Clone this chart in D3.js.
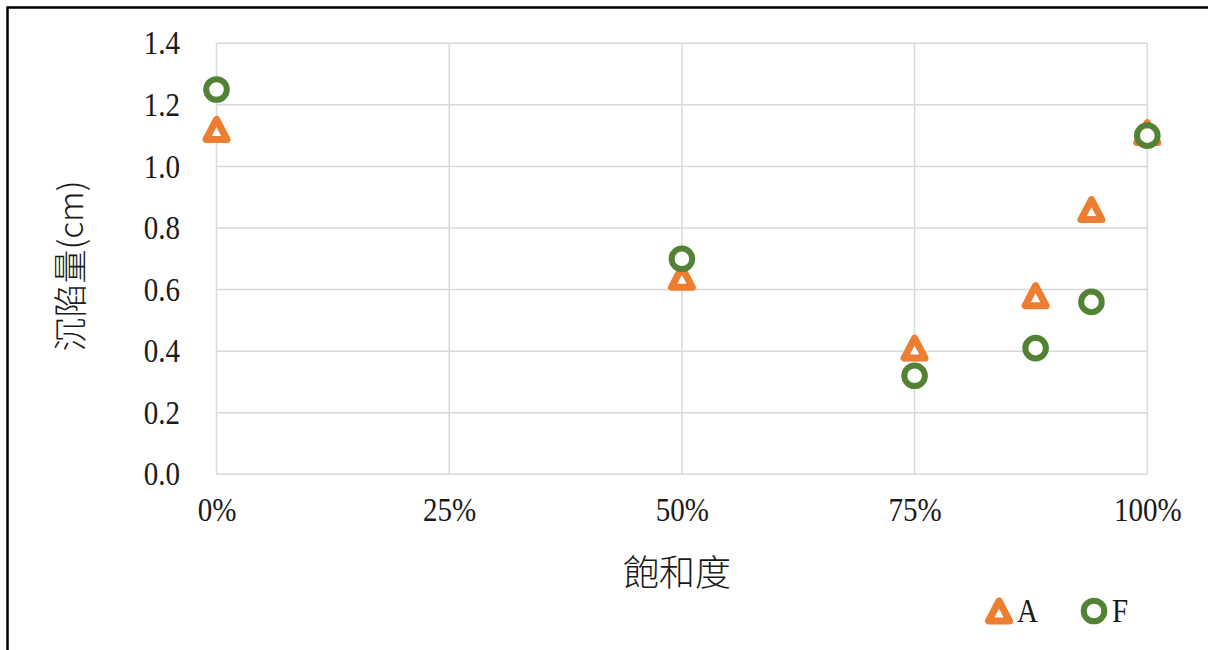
<!DOCTYPE html>
<html>
<head>
<meta charset="utf-8">
<script src="https://cdn.jsdelivr.net/npm/d3@7"></script>
<style>
  html, body { margin: 0; padding: 0; background: #fff; }
  svg { display: block; }
</style>
</head>
<body>
<svg id="chart" width="1208" height="650"></svg>
<script>
// Settlement vs. degree of saturation
const saturation = [0, 0.5, 0.75, 0.88, 0.94, 1.0];
const seriesA = [1.12, 0.64, 0.41, 0.58, 0.86, 1.11];
const seriesF = [1.25, 0.70, 0.32, 0.41, 0.56, 1.10];
const seriesNames = ["A", "F"];
const xTickValues = [0, 0.25, 0.5, 0.75, 1.0];
const yTickValues = [0, 0.2, 0.4, 0.6, 0.8, 1.0, 1.2, 1.4];
const xTitle = "飽和度";
const yTitle = "沉陷量(cm)";

const colors = { A: "#ED7D31", F: "#548235" };
const numFont = "'Liberation Serif', 'DejaVu Serif', serif";
const cjkFont = "'Noto Sans CJK TC', 'Noto Sans', sans-serif";
const squeeze = 0.88;

const svg = d3.select("#chart");
const plot = { left: 216.5, right: 1147.3, top: 43.3, bottom: 474.3 };

const x = d3.scaleLinear().domain([0, 1]).range([plot.left, plot.right]);
const y = d3.scaleLinear().domain([0, 1.4]).range([plot.bottom, plot.top]);

// outer frame
svg.append("rect")
  .attr("x", 7.5).attr("y", 7.5)
  .attr("width", 1220).attr("height", 680)
  .attr("fill", "none").attr("stroke", "#000").attr("stroke-width", 2.5);

// gridlines
const grid = svg.append("g").attr("stroke", "#d9d9d9").attr("stroke-width", 1.5);
grid.selectAll("line.h").data(yTickValues).join("line")
  .attr("x1", plot.left).attr("x2", plot.right)
  .attr("y1", d => y(d)).attr("y2", d => y(d));
grid.selectAll("line.v").data(xTickValues).join("line")
  .attr("x1", d => x(d)).attr("x2", d => x(d))
  .attr("y1", plot.top).attr("y2", plot.bottom);

// y axis labels
const yAxis = svg.append("g")
  .attr("transform", `translate(${plot.left},0)`)
  .call(d3.axisLeft(y).tickValues(yTickValues).tickSize(0)
    .tickPadding(36.5 / squeeze).tickFormat(d3.format(".1f")));
yAxis.select(".domain").remove();
yAxis.selectAll("text")
  .attr("font-family", numFont).attr("font-size", 33).attr("fill", "#1a1a1a")
  .attr("transform", `scale(${squeeze},1)`);

// x axis labels
const xAxis = svg.append("g")
  .attr("transform", `translate(0,${plot.bottom})`)
  .call(d3.axisBottom(x).tickValues(xTickValues).tickSize(0)
    .tickFormat(d3.format(".0%")));
xAxis.select(".domain").remove();
xAxis.selectAll("text")
  .attr("y", 47).attr("dy", 0)
  .attr("font-family", numFont).attr("font-size", 33).attr("fill", "#1a1a1a")
  .attr("transform", `scale(${squeeze},1)`);

// axis titles
svg.append("text")
  .attr("transform", "translate(68,266) rotate(-90)")
  .attr("text-anchor", "middle").attr("dominant-baseline", "central")
  .attr("font-family", cjkFont).attr("font-size", 34).attr("font-weight", 300)
  .attr("fill", "#1a1a1a")
  .text(yTitle);
svg.append("text")
  .attr("x", 677).attr("y", 570)
  .attr("text-anchor", "middle").attr("dominant-baseline", "central")
  .attr("font-family", cjkFont).attr("font-size", 36).attr("font-weight", 300)
  .attr("fill", "#1a1a1a")
  .text(xTitle);

// marker shapes
const triPath = "M-10.5,10 L10.5,10 L0,-10 Z";
function drawMarker(sel, name) {
  if (name === "A") {
    sel.append("path").attr("d", triPath)
      .attr("fill", "#fff").attr("stroke", colors.A)
      .attr("stroke-width", 7).attr("stroke-linejoin", "round");
  } else {
    sel.append("circle").attr("r", 10.3)
      .attr("fill", "#fff").attr("stroke", colors.F).attr("stroke-width", 6);
  }
}

const seriesData = { A: seriesA, F: seriesF };
seriesNames.forEach(name => {
  const pts = saturation.map((s, i) => ({ s, v: seriesData[name][i] }));
  const g = svg.append("g");
  g.selectAll("g").data(pts).join("g")
    .attr("transform", d => `translate(${x(d.s)},${y(d.v)})`)
    .each(function () { drawMarker(d3.select(this), name); });
});

// legend
const legendPos = { A: [999, 611], F: [1094, 611] };
seriesNames.forEach(name => {
  const [lx, ly] = legendPos[name];
  const g = svg.append("g").attr("transform", `translate(${lx},${ly})`);
  drawMarker(g, name);
  svg.append("text")
    .attr("transform", `translate(${lx + 18},${ly + 11}) scale(${squeeze},1)`)
    .attr("font-family", numFont).attr("font-size", 33).attr("fill", "#1a1a1a")
    .text(name);
});
</script>
</body>
</html>
